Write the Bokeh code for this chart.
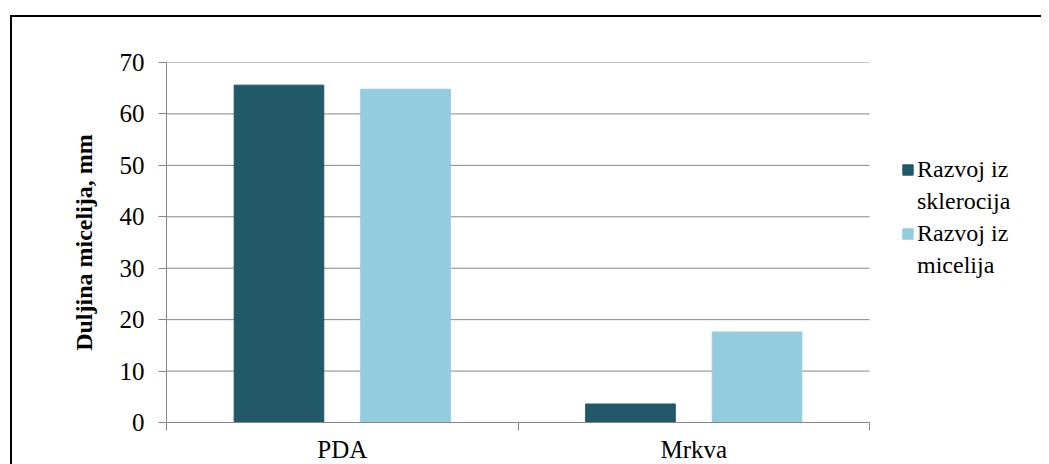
from bokeh.plotting import figure
from bokeh.models import Range1d, FixedTicker, Legend, LegendItem, ColumnDataSource
from bokeh.transform import dodge
from bokeh.embed import file_html
from bokeh.resources import INLINE

categories = ["PDA", "Mrkva"]
series_lines = [["Razvoj iz", "sklerocija"], ["Razvoj iz", "micelija"]]
sklerocija = [65.6, 3.6]
micelija = [64.8, 17.6]
colors = ["#215968", "#93CDDD"]
y_ticks = [0, 10, 20, 30, 40, 50, 60, 70]

FONT = "Times New Roman"
GRID = "#868686"

n = len(categories)
centers = [i + 0.5 for i in range(n)]
src = ColumnDataSource(dict(x=centers, s=sklerocija, m=micelija))
grid_src = ColumnDataSource(dict(y=y_ticks, x0=[0] * len(y_ticks), x1=[n] * len(y_ticks)))

# plot area 166..869 px holds the categories; the frame extends to 1041 px to host the legend
PLOT_W, FRAME_W = 703, 875
p = figure(
    x_range=Range1d(0, n * FRAME_W / PLOT_W), y_range=Range1d(0, 70),
    frame_width=FRAME_W, frame_height=360,
    min_border_left=154, min_border_right=0, min_border_top=45, min_border_bottom=30,
    output_backend="svg", toolbar_location=None, tools="",
)
p.styles = {"border-top": "2px solid black", "border-left": "2px solid black",
            "margin-top": "15px", "margin-left": "10px",
            "font-family": "'Liberation Serif', 'Times New Roman', serif"}
p.outline_line_color = None
p.background_fill_color = "white"
p.border_fill_color = "white"

# gridlines limited to the category area
p.segment(x0="x0", x1="x1", y0="y", y1="y", source=grid_src, line_color=GRID, line_width=1)

r1 = p.vbar(x=dodge("x", -0.18, range=p.x_range), top="s", width=0.255, bottom=0,
            source=src, fill_color=colors[0], line_color=colors[0])
r2 = p.vbar(x=dodge("x", 0.18, range=p.x_range), top="m", width=0.255, bottom=0,
            source=src, fill_color=colors[1], line_color=colors[1])
blank = p.vbar(x=[], top=[], width=0.1, fill_alpha=0, line_alpha=0)

p.xgrid.visible = False
p.ygrid.visible = False

# y axis
p.yaxis.ticker = FixedTicker(ticks=y_ticks)
p.yaxis.axis_line_color = GRID
p.yaxis.major_tick_line_color = GRID
p.yaxis.major_tick_out = 8
p.yaxis.major_tick_in = 0
p.yaxis.minor_tick_line_color = None
p.yaxis.major_label_text_font = FONT
p.yaxis.major_label_text_font_size = "25px"
p.yaxis.major_label_text_color = "black"
p.yaxis.major_label_standoff = 14
p.yaxis.axis_label = "Duljina micelija, mm"
p.yaxis.axis_label_text_font = FONT
p.yaxis.axis_label_text_font_size = "24px"
p.yaxis.axis_label_text_font_style = "bold"
p.yaxis.axis_label_text_color = "black"
p.yaxis.axis_label_standoff = 20

# x axis
p.xaxis.bounds = (0, n)
p.xaxis.ticker = FixedTicker(ticks=centers, minor_ticks=list(range(n + 1)))
p.xaxis.major_label_overrides = {c: lab for c, lab in zip(centers, categories)}
p.xaxis.axis_line_color = GRID
p.xaxis.major_tick_line_color = None
p.xaxis.major_tick_out = 0
p.xaxis.major_tick_in = 0
p.xaxis.minor_tick_line_color = GRID
p.xaxis.minor_tick_out = 8
p.xaxis.minor_tick_in = 0
p.xaxis.major_label_text_font = FONT
p.xaxis.major_label_text_font_size = "25px"
p.xaxis.major_label_text_color = "black"
p.xaxis.major_label_standoff = 5

legend = Legend(
    items=[LegendItem(label=series_lines[0][0], renderers=[r1]),
           LegendItem(label=series_lines[0][1], renderers=[blank]),
           LegendItem(label=series_lines[1][0], renderers=[r2]),
           LegendItem(label=series_lines[1][1], renderers=[blank])],
    location=(735, 143),
    label_text_font=FONT, label_text_font_size="24px", label_text_color="black",
    glyph_width=13, glyph_height=13, label_standoff=3, spacing=4, label_height=28,
    padding=0, margin=0, border_line_color=None, background_fill_alpha=0,
)
p.add_layout(legend, "center")

open("out.html", "w").write(file_html(p, INLINE))
